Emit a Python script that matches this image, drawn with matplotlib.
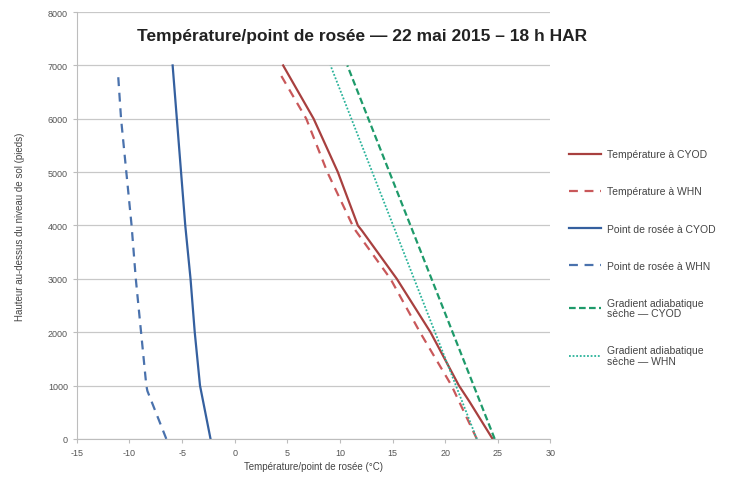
import matplotlib
matplotlib.use("Agg")
import matplotlib.pyplot as plt

plt.rcParams['font.family'] = ['Liberation Sans', 'DejaVu Sans']
plt.rcParams['axes.unicode_minus'] = False

# ---------------- DATA ----------------
# hauteur (pieds) / temperature (degC)
h_temp_cyod = [0, 700, 1000, 2000, 3000, 3900, 4000, 5000, 6000, 7000]
t_temp_cyod = [24.5, 22.3, 21.3, 18.6, 15.4, 12.1, 11.7, 9.8, 7.5, 4.6]

h_temp_whn = [0, 1000, 2000, 3000, 3900, 4000, 5000, 6000, 6880]
t_temp_whn = [23.0, 20.6, 17.6, 14.8, 11.5, 11.2, 8.8, 6.8, 4.2]

h_dew_cyod = [0, 900, 1000, 2000, 3000, 4000, 5000, 6000, 7000]
t_dew_cyod = [-2.3, -3.2, -3.3, -3.8, -4.2, -4.7, -5.1, -5.5, -5.9]

h_dew_whn = [0, 900, 1000, 2000, 3000, 4000, 5000, 6000, 6880]
t_dew_whn = [-6.5, -8.3, -8.4, -8.9, -9.4, -9.8, -10.3, -10.8, -11.1]

h_adiab_cyod = [0, 7000]
t_adiab_cyod = [24.7, 10.7]

h_adiab_whn = [0, 7000]
t_adiab_whn = [23.0, 9.1]

labels = ["Température à CYOD", "Température à WHN", "Point de rosée à CYOD",
          "Point de rosée à WHN", "Gradient adiabatique\nsèche — CYOD",
          "Gradient adiabatique\nsèche — WHN"]

# ---------------- PLOT ----------------
fig = plt.figure(figsize=(7.32, 4.85), dpi=100)
ax = fig.add_axes([0.105, 0.093, 0.647, 0.88])

ax.plot(t_temp_cyod, h_temp_cyod, color="#a8403f", lw=1.6, label=labels[0])
ax.plot(t_temp_whn, h_temp_whn, color="#c9585a", lw=1.6, ls=(0, (4, 3)), label=labels[1])
ax.plot(t_dew_cyod, h_dew_cyod, color="#35609f", lw=1.6, label=labels[2])
ax.plot(t_dew_whn, h_dew_whn, color="#4a72ad", lw=1.6, ls=(0, (4, 3)), label=labels[3])
ax.plot(t_adiab_cyod, h_adiab_cyod, color="#1e9a6a", lw=1.6, ls=(0, (3, 1.5)), label=labels[4])
ax.plot(t_adiab_whn, h_adiab_whn, color="#2ab39a", lw=1.3, ls=(0, (1, 1)), label=labels[5])

ax.set_xlim(-15, 30)
ax.set_ylim(0, 8000)
ax.set_xticks(range(-15, 31, 5))
ax.set_yticks(range(0, 8001, 1000))
ax.grid(axis="y", color="#c8c8c8", lw=0.9)
ax.set_axisbelow(True)
for s in ["top", "right"]:
    ax.spines[s].set_visible(False)
for s in ["left", "bottom"]:
    ax.spines[s].set_color("#bdbdbd")
ax.tick_params(colors="#bdbdbd", labelcolor="#555555", labelsize=6.5, length=3)

ax.set_xlabel("Température/point de rosée (°C)", fontsize=7, color="#444444", labelpad=3)
ax.set_ylabel("Hauteur au-dessus du niveau de sol (pieds)", fontsize=7, color="#444444", labelpad=16)

fig.text(0.495, 0.925, "Température/point de rosée — 22 mai 2015 – 18 h HAR",
         ha="center", va="center", fontsize=12.5, fontweight="bold", color="#222222")

leg = ax.legend(loc="center left", bbox_to_anchor=(1.02, 0.425), frameon=False,
                fontsize=7.5, labelspacing=2.6, handlelength=3.0, handletextpad=0.6,
                labelcolor="#444444")
for txt in leg.get_texts():
    txt.set_linespacing(1.05)

plt.savefig("out.png", dpi=100)
